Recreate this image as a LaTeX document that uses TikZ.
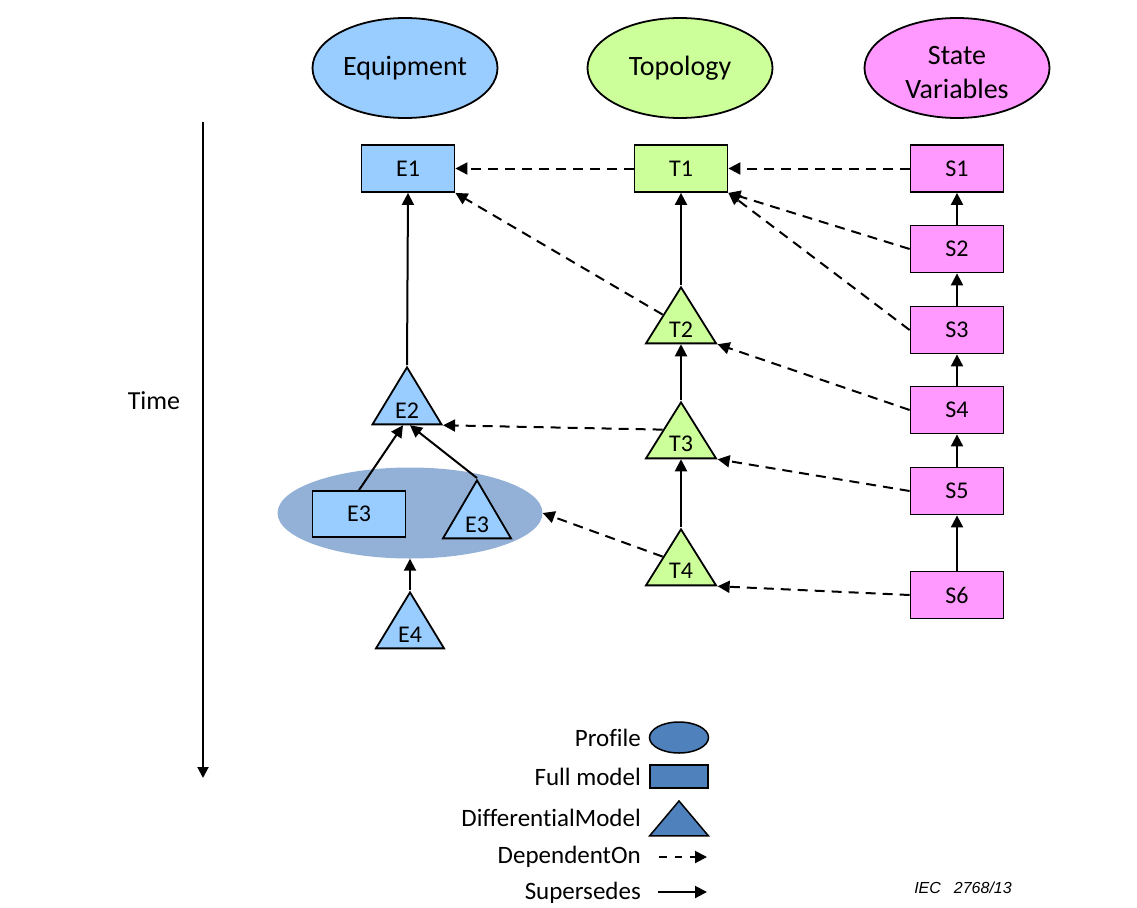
\documentclass[tikz,border=0pt]{standalone}
\usepackage{fontspec}
\setmainfont{Carlito}[Ligatures=NoCommon]
\newfontfamily\iecfont{Liberation Sans}
\usetikzlibrary{shapes.geometric,arrows.meta}
\definecolor{eqblue}{HTML}{99CCFF}
\definecolor{topgreen}{HTML}{CCFF99}
\definecolor{svpink}{HTML}{FF99FF}
\definecolor{profblue}{RGB}{147,176,215}
\definecolor{legblue}{HTML}{4F81BD}
\begin{document}
\begin{tikzpicture}[x=1pt,y=-1pt,
  every node/.style={inner sep=0pt},
  hdr/.style={ellipse, draw, line width=1.8pt, minimum width=185pt, minimum height=100pt,
    font=\fontsize{28}{34}\selectfont, align=center},
  box/.style={rectangle, draw, line width=1.8pt, minimum width=93pt, minimum height=47pt,
    font=\fontsize{24}{28}\selectfont},
  tri/.style={isosceles triangle, isosceles triangle stretches, shape border rotate=90,
    draw, line width=1.8pt, anchor=apex},
  lbl/.style={font=\fontsize{24}{28}\selectfont},
  legtxt/.style={font=\fontsize{25}{30}\selectfont, anchor=east},
  sup/.style={-{Triangle[length=12pt,width=12pt]}, line width=2pt},
  dep/.style={sup, dash pattern=on 10pt off 7pt},
]
\useasboundingbox (0,0) rectangle (1137,907);

% headers
\node[hdr, fill=eqblue] (heq) at (405,68) {Equipment};
\node[hdr, fill=topgreen] (hto) at (680,68) {Topology};
\node[hdr, fill=svpink] (hsv) at (957,68) {};
\node[font=\fontsize{28}{34}\selectfont, align=center] (hsvtxt) at (957,73) {State\\Variables};

% profile ellipse
\node[ellipse, fill=profblue, minimum width=265pt, minimum height=91pt] (prof) at (410,513) {};

% equipment column
\node[box, fill=eqblue] (E1) at (408,168.5) {E1};
\node[tri, fill=eqblue, minimum width=69pt, minimum height=57pt] (E2) at (407,365) {};
\node[lbl] at ([yshift=15pt]E2.lower side) {E2};
\node[box, fill=eqblue, minimum height=46pt] (E3r) at (359,514) {E3};
\node[tri, fill=eqblue, minimum width=68pt, minimum height=58pt] (E3t) at (477,478) {};
\node[lbl] at ([yshift=14pt]E3t.lower side) {E3};
\node[tri, fill=eqblue, minimum width=68pt, minimum height=56pt] (E4) at (410,590) {};
\node[lbl] at ([yshift=14pt]E4.lower side) {E4};

% topology column
\node[box, fill=topgreen] (T1) at (681,168.5) {T1};
\node[tri, fill=topgreen, minimum width=70pt, minimum height=56pt] (T2) at (681,285) {};
\node[lbl] at ([yshift=15pt]T2.lower side) {T2};
\node[tri, fill=topgreen, minimum width=70pt, minimum height=56pt] (T3) at (681,400) {};
\node[lbl] at ([yshift=15pt]T3.lower side) {T3};
\node[tri, fill=topgreen, minimum width=70pt, minimum height=56pt] (T4) at (681,527) {};
\node[lbl] at ([yshift=15pt]T4.lower side) {T4};

% state variables column
\node[box, fill=svpink] (S1) at (957,168.5) {S1};
\node[box, fill=svpink] (S2) at (957,249) {S2};
\node[box, fill=svpink] (S3) at (957,330) {S3};
\node[box, fill=svpink] (S4) at (957,410) {S4};
\node[box, fill=svpink] (S5) at (957,491) {S5};
\node[box, fill=svpink] (S6) at (957,595) {S6};

% supersedes
\draw[sup] (E2.apex) -- (E1.south);
\draw[sup] (E3r.north) -- ([xshift=-4pt]E2.lower side);
\draw[sup] (E3t.apex) -- ([xshift=3pt]E2.lower side);
\draw[sup] (E4.apex) -- (prof.south);
\draw[sup] (T2.apex) -- (T1.south);
\draw[sup] (T3.apex) -- (T2.lower side);
\draw[sup] (T4.apex) -- (T3.lower side);
\draw[sup] (S2.north) -- (S1.south);
\draw[sup] (S3.north) -- (S2.south);
\draw[sup] (S4.north) -- (S3.south);
\draw[sup] (S5.north) -- (S4.south);
\draw[sup] (S6.north) -- (S5.south);

% dependent on
\draw[dep] (T1.west) -- (E1.east);
\draw[dep] (S1.west) -- (T1.east);
\draw[dep] (S2.west) -- (T1.south east);
\draw[dep] (S3.west) -- (T1.south east);
\draw[dep] (T2.left side) -- (E1.south east);
\draw[dep] (S4.west) -- (T2.right corner);
\draw[dep] (T3.left side) -- (E2.right corner);
\draw[dep] (S5.west) -- (T3.right corner);
\draw[dep] (T4.left side) -- (prof.east);
\draw[dep] (S6.west) -- (T4.right corner);

% time axis
\coordinate (t0) at (203,122);
\coordinate (t1) at (203,778);
\draw[-{Triangle[length=11pt,width=11pt]}, line width=2pt] (t0) -- (t1);
\node[font=\fontsize{26}{30}\selectfont] (time) at (154,401) {Time};

% legend
\node[legtxt] (lprof) at (641,738) {Profile};
\node[ellipse, draw, line width=1.5pt, fill=legblue, minimum width=59pt, minimum height=31pt] (lell) at (679,737.5) {};
\node[legtxt] (lfull) at (641,777) {Full model};
\node[rectangle, draw, line width=1.5pt, fill=legblue, minimum width=58pt, minimum height=23pt] (lrect) at (679,776.5) {};
\node[legtxt] (ldiff) at (641,818) {DifferentialModel};
\node[tri, line width=1.5pt, fill=legblue, minimum width=59pt, minimum height=35pt] (ltri) at (679,799) {};
\node[legtxt] (ldep) at (641,857) {DependentOn};
\coordinate (d0) at (659,857);
\coordinate (d1) at (707,857);
\draw[sup, dash pattern=on 7.5pt off 8pt] (d0) -- (d1);
\node[legtxt] (lsup) at (641,893) {Supersedes};
\coordinate (s0) at (658,892);
\coordinate (s1) at (707,892);
\draw[sup] (s0) -- (s1);

\node[font=\iecfont\itshape\fontsize{16}{19}\selectfont] (iec) at (963,888) {IEC\hspace{13pt}2768/13};
\end{tikzpicture}
\end{document}
